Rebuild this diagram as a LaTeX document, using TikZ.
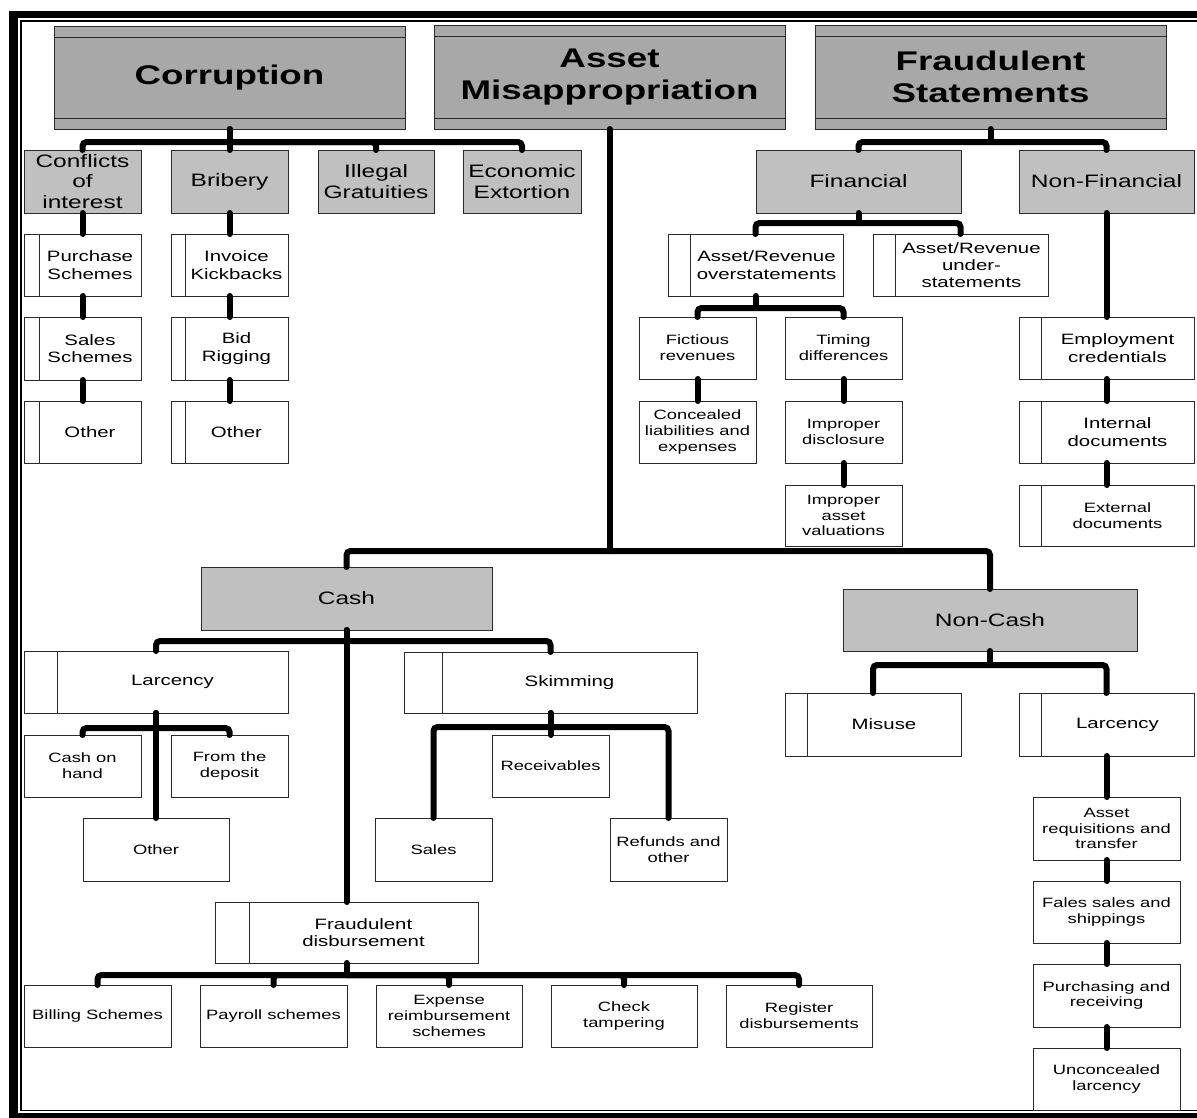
\documentclass[tikz,border=0pt]{standalone}
\usepackage{fontspec}
\setmainfont{Liberation Sans}[FakeStretch=1.36]
\definecolor{hdrgray}{HTML}{A8A8A8}
\definecolor{catgray}{HTML}{C0C0C0}
\definecolor{edge}{HTML}{2A2A2A}

\tikzset{
  box/.style={draw=edge, line width=1pt, inner sep=0pt, outer sep=0pt, align=center, text=black},
  hdr/.style={box, fill=hdrgray, font=\fontsize{27}{32}\selectfont\bfseries,
    path picture={
      \draw[edge, line width=0.9pt] ([yshift=-11pt]path picture bounding box.north west) -- ([yshift=-11pt]path picture bounding box.north east);
      \draw[edge, line width=0.9pt] ([yshift=11pt]path picture bounding box.south west) -- ([yshift=11pt]path picture bounding box.south east);}},
  cat/.style={box, fill=catgray, font=\fontsize{18}{20.7}\selectfont},
  leaf/.style={box, fill=white, font=\fontsize{13.5}{15.8}\selectfont},
  barbox/.style={box, fill=white,
    path picture={\draw[edge, line width=1pt] ([xshift=#1pt]path picture bounding box.north west) -- ([xshift=#1pt]path picture bounding box.south west);}},
  bartext/.style={inner sep=0pt, align=center, font=\fontsize{15}{17.3}\selectfont},
  conn/.style={line width=6pt, line cap=round, rounded corners=4pt},
}

% box given by left, top, right, bottom (y measured downwards)
\newcommand\plainbox[7]{%
  \node[#1, minimum width={#5-#3}, minimum height={#6-#4}] (#2) at ({(#3+#5)/2},{-(#4+#6)/2}) {#7};}
% box with a narrow side panel on its left; the text is centred right of the panel
\newcommand\panelbox[8]{%
  \node[barbox=#2, minimum width={#5-#3}, minimum height={#6-#4}] (#1) at ({(#3+#5)/2},{-(#4+#6)/2}) {};
  \node[bartext, #7] (#1-t) at ({(#3+#2+#5)/2},{-(#4+#6)/2}) {#8};}

\begin{document}
\begin{tikzpicture}[x=1pt, y=1pt]
\useasboundingbox (0,0) rectangle (1197,-1117);

% double frame
\fill[black] (9,-11) rectangle (1210,-1125);
\fill[white] (18,-18) rectangle (1210,-1113);
\draw[line width=1.5pt] (21,-21) rectangle (1210,-1110.5);

% top level
\plainbox{hdr}{corr}{54}{26}{405}{129}{Corruption}
\plainbox{hdr}{am}{434}{25}{785}{129}{Asset\\Misappropriation}
\plainbox{hdr}{fs}{815}{25}{1166}{129}{Fraudulent\\Statements}

% second level
\plainbox{cat}{coi}{24}{150}{141}{213}{Conflicts\\of\\interest}
\plainbox{cat}{bri}{171}{150}{288}{213}{Bribery}
\plainbox{cat}{ill}{318}{150}{434}{213}{Illegal\\Gratuities}
\plainbox{cat}{eco}{463}{150}{581}{213}{Economic\\Extortion}
\plainbox{cat}{fin}{756}{150}{961}{213}{Financial}
\plainbox{cat}{nfin}{1019}{150}{1194}{213}{Non-Financial}
\plainbox{cat}{cash}{201}{567}{492}{630}{Cash}
\plainbox{cat}{ncash}{843}{589}{1137}{651}{Non-Cash}

% corruption schemes
\panelbox{ps}{15}{24}{234}{141}{296}{}{Purchase\\Schemes}
\panelbox{ss}{15}{24}{317}{141}{380}{}{Sales\\Schemes}
\panelbox{oth1}{15}{24}{401}{141}{463}{}{Other}
\panelbox{ik}{14}{171}{234}{288}{296}{}{Invoice\\Kickbacks}
\panelbox{bid}{14}{171}{317}{288}{380}{}{Bid\\Rigging}
\panelbox{oth2}{14}{171}{401}{288}{463}{}{Other}

% fraudulent statements
\panelbox{over}{22}{668}{234}{843}{296}{}{Asset/Revenue\\overstatements}
\panelbox{under}{22}{873}{234}{1048}{296}{}{Asset/Revenue\\under-\\statements}
\plainbox{leaf}{fict}{639}{317}{756}{379}{Fictious\\revenues}
\plainbox{leaf}{timing}{785}{317}{902}{379}{Timing\\differences}
\plainbox{leaf}{conc}{639}{401}{756}{463}{Concealed\\liabilities and\\expenses}
\plainbox{leaf}{impd}{785}{401}{902}{463}{Improper\\disclosure}
\plainbox{leaf}{impa}{785}{485}{902}{546}{Improper\\asset\\valuations}
\panelbox{emp}{22}{1019}{317}{1194}{379}{}{Employment\\credentials}
\panelbox{intd}{22}{1019}{401}{1194}{463}{}{Internal\\documents}
\panelbox{extd}{22}{1019}{485}{1194}{546}{font=\fontsize{13.5}{15.8}\selectfont}{External\\documents}

% cash
\panelbox{larc}{33}{24}{651}{288}{713}{}{Larcency}
\panelbox{skim}{38}{404}{652}{697}{713}{}{Skimming}
\plainbox{leaf}{coh}{24}{735}{141}{797}{Cash on\\hand}
\plainbox{leaf}{dep}{171}{735}{288}{797}{From the\\deposit}
\plainbox{leaf}{oth3}{83}{818}{229}{881}{Other}
\plainbox{leaf}{recv}{492}{735}{609}{797}{Receivables}
\plainbox{leaf}{sales}{375}{818}{492}{881}{Sales}
\plainbox{leaf}{refund}{610}{818}{727}{881}{Refunds and\\other}
\panelbox{fd}{34}{215}{902}{478}{963}{}{Fraudulent\\disbursement}
\plainbox{leaf}{bill}{24}{985}{171}{1047}{Billing Schemes}
\plainbox{leaf}{pay}{200}{985}{347}{1047}{Payroll schemes}
\plainbox{leaf}{exp}{376}{985}{522}{1047}{Expense\\reimbursement\\schemes}
\plainbox{leaf}{chk}{551}{985}{697}{1047}{Check\\tampering}
\plainbox{leaf}{reg}{726}{985}{872}{1047}{Register\\disbursements}

% non-cash
\panelbox{misuse}{22}{785}{693}{961}{756}{}{Misuse}
\panelbox{nclarc}{22}{1019}{693}{1194}{756}{}{Larcency}
\plainbox{leaf}{areq}{1033}{797}{1180}{860}{Asset\\requisitions and\\transfer}
\plainbox{leaf}{fsales}{1033}{881}{1180}{943}{Fales sales and\\shippings}
\plainbox{leaf}{purch}{1033}{964}{1180}{1027}{Purchasing and\\receiving}
\plainbox{leaf}{uncon}{1033}{1048}{1180}{1110}{Unconcealed\\larcency}

% ---- connectors ----
% corruption
\draw[conn] (corr.south) -- ++(0,-13) coordinate (corrbus);
\draw[conn] (corr.south) -- (bri.north);
\foreach \c in {coi,ill,eco} \draw[conn] (corrbus) -| (\c.north);
\draw[conn] (coi.south) -- (ps.north);
\draw[conn] (ps.south) -- (ss.north);
\draw[conn] (ss.south) -- (oth1.north);
\draw[conn] (bri.south) -- (ik.north);
\draw[conn] (ik.south) -- (bid.north);
\draw[conn] (bid.south) -- (oth2.north);

% fraudulent statements
\draw[conn] (fs.south) -- ++(0,-13) coordinate (fsbus);
\foreach \c in {fin,nfin} \draw[conn] (fsbus) -| (\c.north);
\draw[conn] (fin.south) -- ++(0,-10) coordinate (finbus);
\foreach \c in {over,under} \draw[conn] (finbus) -| (\c.north);
\draw[conn] (over.south) -- ++(0,-12) coordinate (overbus);
\foreach \c in {fict,timing} \draw[conn] (overbus) -| (\c.north);
\draw[conn] (fict.south) -- (conc.north);
\draw[conn] (timing.south) -- (impd.north);
\draw[conn] (impd.south) -- (impa.north);
\draw[conn] (nfin.south) -- (emp.north);
\draw[conn] (emp.south) -- (intd.north);
\draw[conn] (intd.south) -- (extd.north);

% asset misappropriation
\draw[conn] (am.south) -- ++(0,-422) coordinate (ambus);
\foreach \c in {cash,ncash} \draw[conn] (ambus) -| (\c.north);
\draw[conn] (cash.south) -- ++(0,-11) coordinate (cashbus);
\foreach \c in {larc,skim} \draw[conn] (cashbus) -| (\c.north);
\draw[conn] (cash.south) -- (fd.north);
\draw[conn] (larc.south) -- ++(0,-15) coordinate (larcbus);
\foreach \c in {coh,dep} \draw[conn] (larcbus) -| (\c.north);
\draw[conn] (larc.south) -- (oth3.north);
\draw[conn] (skim.south) -- ++(0,-14) coordinate (skimbus);
\foreach \c in {sales,refund} \draw[conn] (skimbus) -| (\c.north);
\draw[conn] (skim.south) -- (recv.north);
\draw[conn] (fd.south) -- ++(0,-12) coordinate (fdbus);
\foreach \c in {bill,pay,exp,chk,reg} \draw[conn] (fdbus) -| (\c.north);
\draw[conn] (ncash.south) -- ++(0,-14) coordinate (ncbus);
\foreach \c in {misuse,nclarc} \draw[conn] (ncbus) -| (\c.north);
\draw[conn] (nclarc.south) -- (areq.north);
\draw[conn] (areq.south) -- (fsales.north);
\draw[conn] (fsales.south) -- (purch.north);
\draw[conn] (purch.south) -- (uncon.north);
\end{tikzpicture}
\end{document}
